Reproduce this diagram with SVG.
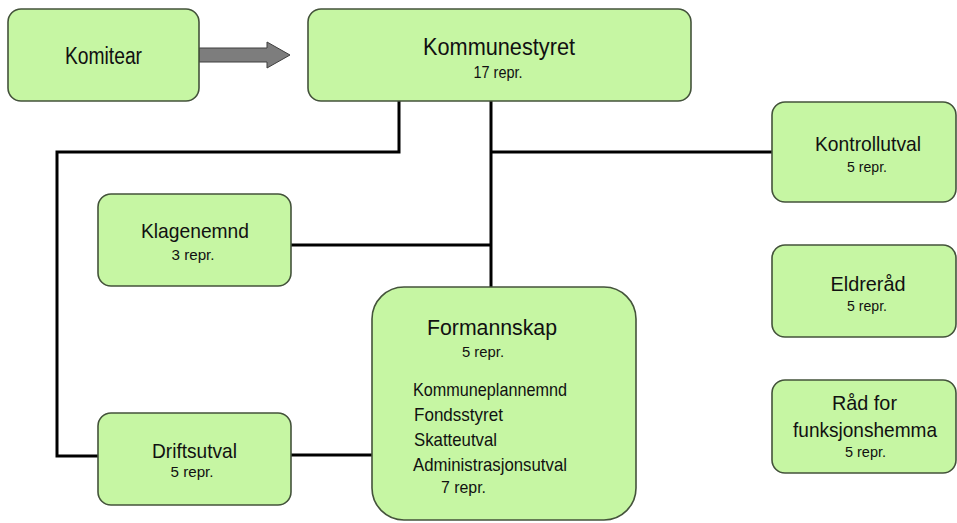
<svg xmlns="http://www.w3.org/2000/svg" width="957" height="523" viewBox="0 0 957 523">
<style>
.box{fill:#c6f6a3;stroke:#44533b;stroke-width:1.6}
.t{font-family:"Liberation Sans",Arial,sans-serif;fill:#111;text-anchor:middle}
.s{font-family:"Liberation Sans",Arial,sans-serif;fill:#111;text-anchor:start}
.ln{fill:none;stroke:#000;stroke-width:3}
</style>
<rect width="957" height="523" fill="#fff"/>
<g id="connectors">
<polyline class="ln" points="399,101 399,152 57,152 57,456 99,456"/>
<line class="ln" x1="491" y1="101" x2="491" y2="287"/>
<line class="ln" x1="491" y1="152" x2="772" y2="152"/>
<line class="ln" x1="291" y1="245" x2="491" y2="245"/>
<line class="ln" x1="291" y1="455" x2="372" y2="455"/>
<polygon points="199,48 267,48 267,42 290,55 267,68 267,62 199,62" fill="#7d7d7d" stroke="#3f3f3f" stroke-width="1"/>
</g>
<g id="komitear">
<rect class="box" x="8" y="9" width="191" height="92" rx="13"/>
<text class="t" x="103.5" y="64" font-size="23" textLength="77" lengthAdjust="spacingAndGlyphs">Komitear</text>
</g>
<g id="kommunestyret">
<rect class="box" x="308" y="9" width="383" height="92" rx="13"/>
<text class="t" x="499" y="55" font-size="24" textLength="152" lengthAdjust="spacingAndGlyphs">Kommunestyret</text>
<text class="t" x="498" y="78" font-size="16" textLength="49" lengthAdjust="spacingAndGlyphs">17 repr.</text>
</g>
<g id="klagenemnd">
<rect class="box" x="98" y="194" width="193" height="92" rx="13"/>
<text class="t" x="195" y="238" font-size="21" textLength="108" lengthAdjust="spacingAndGlyphs">Klagenemnd</text>
<text class="t" x="193" y="260" font-size="15" textLength="43" lengthAdjust="spacingAndGlyphs">3 repr.</text>
</g>
<g id="driftsutval">
<rect class="box" x="98" y="413" width="193" height="92" rx="13"/>
<text class="t" x="194.5" y="458" font-size="21" textLength="85" lengthAdjust="spacingAndGlyphs">Driftsutval</text>
<text class="t" x="192" y="477" font-size="15" textLength="43" lengthAdjust="spacingAndGlyphs">5 repr.</text>
</g>
<g id="formannskap">
<rect class="box" x="372" y="287" width="264" height="233" rx="32"/>
<text class="s" x="427" y="335" font-size="22" textLength="130" lengthAdjust="spacingAndGlyphs">Formannskap</text>
<text class="s" x="462" y="357" font-size="15" textLength="42" lengthAdjust="spacingAndGlyphs">5 repr.</text>
<text class="s" x="413" y="396" font-size="19" textLength="154" lengthAdjust="spacingAndGlyphs">Kommuneplannemnd</text>
<text class="s" x="414" y="421" font-size="19" textLength="89" lengthAdjust="spacingAndGlyphs">Fondsstyret</text>
<text class="s" x="414" y="446" font-size="19" textLength="83" lengthAdjust="spacingAndGlyphs">Skatteutval</text>
<text class="s" x="413" y="471" font-size="19" textLength="154" lengthAdjust="spacingAndGlyphs">Administrasjonsutval</text>
<text class="s" x="441" y="493" font-size="16" textLength="45" lengthAdjust="spacingAndGlyphs">7 repr.</text>
</g>
<g id="kontrollutval">
<rect class="box" x="772" y="102" width="184" height="100" rx="13"/>
<text class="t" x="868" y="151" font-size="21" textLength="106" lengthAdjust="spacingAndGlyphs">Kontrollutval</text>
<text class="t" x="867" y="172" font-size="15" textLength="40" lengthAdjust="spacingAndGlyphs">5 repr.</text>
</g>
<g id="eldrerad">
<rect class="box" x="772" y="245" width="184" height="92" rx="13"/>
<text class="t" x="868" y="291" font-size="21" textLength="75" lengthAdjust="spacingAndGlyphs">Eldreråd</text>
<text class="t" x="867" y="311" font-size="15" textLength="40" lengthAdjust="spacingAndGlyphs">5 repr.</text>
</g>
<g id="rad-for-funksjonshemma">
<rect class="box" x="772" y="380" width="184" height="93" rx="13"/>
<text class="t" x="864.5" y="410" font-size="21" textLength="65" lengthAdjust="spacingAndGlyphs">Råd for</text>
<text class="t" x="865" y="437" font-size="21" textLength="144" lengthAdjust="spacingAndGlyphs">funksjonshemma</text>
<text class="t" x="865.5" y="457" font-size="15" textLength="41" lengthAdjust="spacingAndGlyphs">5 repr.</text>
</g>
</svg>
